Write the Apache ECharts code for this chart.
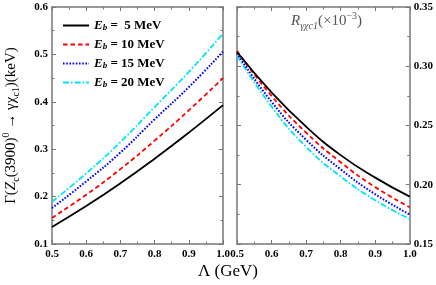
<!DOCTYPE html>
<html><head><meta charset="utf-8">
<script src="https://cdn.jsdelivr.net/npm/echarts@6/dist/echarts.min.js"></script>
<style>html,body{margin:0;padding:0;background:#fff}#c{width:436px;height:285px}</style>
</head><body><div id="c"></div>
<script>
const lambda = [0.5, 0.6, 0.7, 0.8, 0.9, 1.0];
const gamma5  = [0.136, 0.180, 0.228, 0.280, 0.335, 0.393];
const gamma10 = [0.155, 0.204, 0.258, 0.318, 0.382, 0.450];
const gamma15 = [0.176, 0.232, 0.293, 0.363, 0.431, 0.506];
const gamma20 = [0.189, 0.249, 0.315, 0.389, 0.463, 0.544];
const ratio5  = [0.312, 0.278, 0.249, 0.225, 0.206, 0.190];
const ratio10 = [0.313, 0.275, 0.244, 0.219, 0.198, 0.181];
const ratio15 = [0.311, 0.270, 0.238, 0.213, 0.192, 0.175];
const ratio20 = [0.309, 0.266, 0.232, 0.207, 0.187, 0.171];
const names = ['5', '10', '15', '20'];
const colors = ['#000000', '#ff0000', '#0000ff', '#00e5ee'];
const dashes = ['solid', [4.5, 3], [1.6, 1.6], [6, 2, 1.6, 2]];

const serif = '"Liberation Serif","DejaVu Serif",serif';
const axisColor = '#777';
const pair = (xs, ys) => xs.map((x, i) => [x, ys[i]]);

function xAx(grid, labels) {
  return {
    type: 'value', gridIndex: grid, min: 0.5, max: 1.0, interval: 0.1,
    position: labels ? 'bottom' : 'top',
    axisLine: {show: true, lineStyle: {color: axisColor, width: 1.5}},
    axisTick: {show: true, inside: true, length: 4, lineStyle: {color: axisColor}},
    minorTick: {show: true, splitNumber: 2, length: 2.5, lineStyle: {color: axisColor}},
    axisLabel: {show: labels, color: '#000', fontFamily: serif, fontWeight: 'bold', fontSize: 11, margin: 5,
      formatter: v => v.toFixed(1)},
    splitLine: {show: false}
  };
}
function yAx(grid, min, max, interval, pos, labels, dec) {
  return {
    type: 'value', gridIndex: grid, min: min, max: max, interval: interval, position: pos,
    axisLine: {show: true, lineStyle: {color: axisColor, width: 1.5}},
    axisTick: {show: true, inside: true, length: 4, lineStyle: {color: axisColor}},
    minorTick: {show: true, splitNumber: 2, length: 2.5, lineStyle: {color: axisColor}},
    axisLabel: {show: labels, color: '#000', fontFamily: serif, fontWeight: 'bold', fontSize: 11, margin: 4,
      formatter: v => v.toFixed(dec)},
    splitLine: {show: false}
  };
}

const leftData = [gamma5, gamma10, gamma15, gamma20];
const rightData = [ratio5, ratio10, ratio15, ratio20];
const series = [];
names.forEach((n, i) => {
  const common = {
    name: n, type: 'line', smooth: true, showSymbol: false, symbol: 'none',
    lineStyle: {color: colors[i], width: i === 2 ? 2 : 1.8, type: dashes[i]},
    itemStyle: {color: colors[i]}, z: 10 - i, animation: false
  };
  series.push(Object.assign({}, common, {xAxisIndex: 0, yAxisIndex: 0, data: pair(lambda, leftData[i])}));
  series.push(Object.assign({}, common, {xAxisIndex: 2, yAxisIndex: 2, data: pair(lambda, rightData[i])}));
});

const chart = echarts.init(document.getElementById('c'));
chart.setOption({
  animation: false,
  backgroundColor: '#fff',
  grid: [
    {left: 50, top: 7, width: 173, height: 237},
    {left: 237, top: 7, width: 173, height: 237}
  ],
  xAxis: [xAx(0, true), xAx(0, false), xAx(1, true), xAx(1, false)],
  yAxis: [
    Object.assign(yAx(0, 0.1, 0.6, 0.1, 'left', true, 1), {
      name: '{a|Γ(}{i|Z}{s|c}{a|(3900)}{u|0}{a| → γχ}{s|c1}{a|)(keV)}',
      nameLocation: 'middle', nameGap: 31, nameRotate: 90,
      nameTextStyle: {rich: {
        a: {fontFamily: serif, fontSize: 15, color: '#000', lineHeight: 20, verticalAlign: 'middle'},
        i: {fontFamily: serif, fontSize: 15, fontStyle: 'italic', color: '#000', lineHeight: 20, verticalAlign: 'middle'},
        s: {fontFamily: serif, fontSize: 10, color: '#000', lineHeight: 10, verticalAlign: 'bottom'},
        u: {fontFamily: serif, fontSize: 10, color: '#000', lineHeight: 10, verticalAlign: 'top'}
      }}
    }),
    yAx(0, 0.1, 0.6, 0.1, 'right', false, 1),
    yAx(1, 0.15, 0.35, 0.05, 'right', true, 2),
    yAx(1, 0.15, 0.35, 0.05, 'left', false, 2)
  ],
  legend: {
    left: 57, top: 14, orient: 'vertical', itemWidth: 26, itemHeight: 13, itemGap: 5.5,
    data: names,
    itemStyle: {opacity: 0},
    formatter: n => '{i|E}{s|b}{t| =' + (n.length === 1 ? '  ' : ' ') + n + ' MeV}',
    textStyle: {rich: {
      i: {fontFamily: serif, fontSize: 13, fontWeight: 'bold', fontStyle: 'italic', color: '#000', lineHeight: 14, verticalAlign: 'middle'},
      s: {fontFamily: serif, fontSize: 9, fontWeight: 'bold', fontStyle: 'italic', color: '#000', lineHeight: 8, verticalAlign: 'bottom'},
      t: {fontFamily: serif, fontSize: 13, fontWeight: 'bold', color: '#000', lineHeight: 14, verticalAlign: 'middle'}
    }}
  },
  graphic: [
    {type: 'text', left: 198, top: 263, style: {text: 'Λ (GeV)', font: '17px ' + serif, fill: '#000'}},
    {type: 'text', left: 291, top: 11, style: {
      text: '{i|R}{s|γχc1}{a|(×10}{u|−3}{a|)}',
      rich: {
        a: {fontFamily: serif, fontSize: 15, fill: '#555', lineHeight: 20, verticalAlign: 'middle'},
        i: {fontFamily: serif, fontSize: 15, fontStyle: 'italic', fill: '#555', lineHeight: 20, verticalAlign: 'middle'},
        s: {fontFamily: serif, fontSize: 10, fontStyle: 'italic', fill: '#555', lineHeight: 10, verticalAlign: 'bottom'},
        u: {fontFamily: serif, fontSize: 10, fill: '#555', lineHeight: 10, verticalAlign: 'top'}
      }
    }}
  ],
  series: series
});
</script></body></html>
